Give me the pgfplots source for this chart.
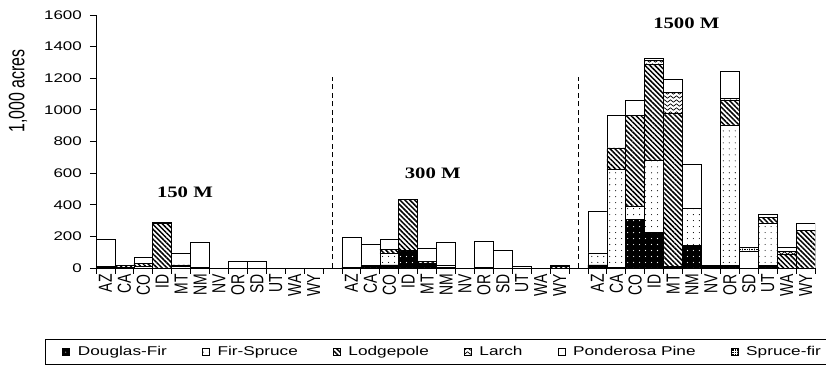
\documentclass[border=0pt]{standalone}
\usepackage{fontspec}
\setmainfont{Liberation Sans}[FakeStretch=1.35]
\newfontfamily\plainsans{Liberation Sans}
\newfontfamily\tnr{Liberation Serif}[FakeStretch=1.3]
\usepackage{graphicx}
\usepackage{pgfplots}
\usepackage{pgfplotstable}
\pgfplotsset{compat=1.18}
\usetikzlibrary{patterns,patterns.meta}

\pgfdeclarepatternformonly{waves}{\pgfqpoint{0pt}{0pt}}{\pgfqpoint{6pt}{4pt}}{\pgfqpoint{6pt}{4pt}}{%
 \pgfsetlinewidth{0.7pt}%
 \pgfpathmoveto{\pgfqpoint{0pt}{2pt}}%
 \pgfpathcurveto{\pgfqpoint{1pt}{3.6pt}}{\pgfqpoint{2pt}{3.6pt}}{\pgfqpoint{3pt}{2pt}}%
 \pgfpathcurveto{\pgfqpoint{4pt}{0.4pt}}{\pgfqpoint{5pt}{0.4pt}}{\pgfqpoint{6pt}{2pt}}%
 \pgfusepath{stroke}}

\newcommand\R[1]{\scalebox{1}[1.35]{\plainsans\fontsize{14}{14}\selectfont #1}}

% x DF FS LP LA PP SF
\pgfplotstableread{
x  DF  FS  LP  LA  PP  SF
0  5   5   0   0   170 0
1  5   0   10  0   5   0
2  0   10  20  0   40  0
3  0   0   280 0   10  0
4  0   10  10  0   70  0
5  5   0   0   0   155 0
6  0   0   0   0   0   0
7  0   0   0   0   40  0
8  0   0   0   0   40  0
9  0   0   0   0   0   0
10 0   0   0   0   0   0
11 0   0   0   0   0   0
13 5   0   0   0   187 0
14 10  10  0   0   130 0
15 20  73  27  0   61  0
16 110 0   324 0   0   0
17 30  0   10  0   82  0
18 5   10  0   0   145 0
19 0   0   0   0   0   0
20 0   5   0   0   166 0
21 0   0   0   0   112 0
22 0   0   0   0   10  0
23 0   0   0   0   0   0
24 0   0   10  0   10  0
26 20  75  0   0   265 0
27 5   617 137 0   207 0
28 306 86  574 0   92  0
29 226 457 603 28  10  0
30 10  0   966 135 84  0
31 141 234 0   0   279 0
32 0   5   5   0   10  0
33 17  885 156 17  169 0
34 0   0   0   0   108 22
35 17  268 35  0   20  0
36 0   0   85  20  25  0
37 0   0   240 0   40  0
}\data

\begin{document}
\begin{tikzpicture}
\begin{axis}[
  at={(96bp,114bp)}, anchor=south west,
  scale only axis, width=719bp, height=253bp,
  xmin=-0.5, xmax=37.5, ymin=0, ymax=1600,
  enlargelimits=false,
  ybar stacked, bar width=1,
  axis x line*=bottom, axis y line*=left,
  axis line style={black, line width=0.8bp},
  tick align=outside,
  major tick length=6bp,
  tick style={black, line width=0.8bp},
  xtick={-0.5,0.5,...,37.5},
  xticklabels={},
  extra x ticks={0,1,2,3,4,5,6,7,8,9,10,11,13,14,15,16,17,18,19,20,21,22,23,24,26,27,28,29,30,31,32,33,34,35,36,37},
  extra x tick labels={\R{AZ},\R{CA},\R{CO},\R{ID},\R{MT},\R{NM},\R{NV},\R{OR},\R{SD},\R{UT},\R{WA},\R{WY},
    \R{AZ},\R{CA},\R{CO},\R{ID},\R{MT},\R{NM},\R{NV},\R{OR},\R{SD},\R{UT},\R{WA},\R{WY},
    \R{AZ},\R{CA},\R{CO},\R{ID},\R{MT},\R{NM},\R{NV},\R{OR},\R{SD},\R{UT},\R{WA},\R{WY}},
  extra x tick style={major tick length=0pt, xticklabel style={yshift=-6bp, rotate=90, anchor=east, inner sep=0bp}},
  ytick={0,200,400,600,800,1000,1200,1400,1600},
  yticklabels={0,200,400,600,800,1000,1200,1400,1600},
  yticklabel style={font=\fontsize{12.6}{13}\selectfont, inner sep=0bp, xshift=-8bp},
  legend columns=6,
  legend style={at={(-0.07093,-0.2806)}, anchor=north west, draw=black, line width=0.8bp,
    font=\fontsize{12.8}{14}\selectfont, inner xsep=17bp, inner ysep=5bp,
    /tikz/every odd column/.append style={column sep=6bp},
    /tikz/every even column/.append style={column sep=33bp}},
  legend image code/.code={\draw[#1, draw=black, line width=0.6bp] (0bp,-3.5bp) rectangle (7bp,3.5bp);},
  every axis plot/.append style={draw=black, line width=0.6bp},
]
\addplot[fill=black, postaction={pattern={Dots[distance=6pt, radius=0.6pt]}, pattern color=white}] table[x=x,y=DF]{\data};
\addlegendentry{Douglas-Fir}
\addplot[fill=white, postaction={pattern={Dots[distance=6pt, radius=0.55pt]}, pattern color=black}] table[x=x,y=FS]{\data};
\addlegendentry{Fir-Spruce}
\addplot[fill=white, postaction={pattern={Lines[angle=-45, distance=3.5pt, line width=1.5pt]}, pattern color=black}] table[x=x,y=LP]{\data};
\addlegendentry{Lodgepole}
\addplot[fill=white, postaction={pattern=waves, pattern color=black}] table[x=x,y=LA]{\data};
\addlegendentry{Larch}
\addplot[fill=white] table[x=x,y=PP]{\data};
\addlegendentry{Ponderosa Pine}
\addplot[fill=black, postaction={pattern={Hatch[distance=2.4pt, angle=0, line width=0.6pt]}, pattern color=white}] table[x=x,y=SF]{\data};
\addlegendentry{Spruce-fir}
\draw[black, line width=0.8bp, dash pattern=on 5bp off 3.5bp] (axis cs:12,0) -- (axis cs:12,1210);
\draw[black, line width=0.8bp, dash pattern=on 5bp off 3.5bp] (axis cs:25,0) -- (axis cs:25,1210);
\node[font=\tnr\bfseries\fontsize{16}{16}\selectfont] at (axis cs:4.2,480) {150 M};
\node[font=\tnr\bfseries\fontsize{16}{16}\selectfont] at (axis cs:17.3,600) {300 M};
\node[font=\tnr\bfseries\fontsize{16}{16}\selectfont] at (axis cs:30.7,1550) {1500 M};
\end{axis}
\node[rotate=90, font=\plainsans\fontsize{16}{16}\selectfont, inner sep=0pt] at (18bp,291bp) {\scalebox{1}[1.4]{1,000 acres}};
\pgfresetboundingbox
\path (0,0) rectangle (826bp,382bp);
\end{tikzpicture}
\end{document}
